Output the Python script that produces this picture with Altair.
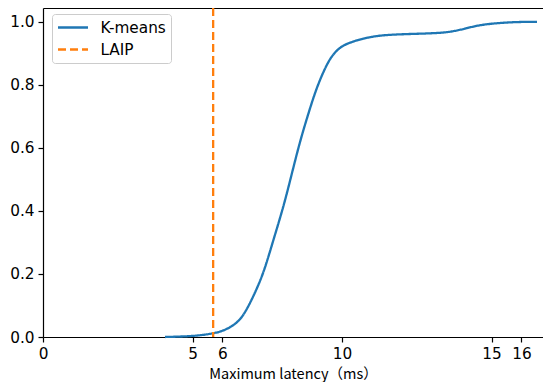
import altair as alt
import pandas as pd

# K-means CDF curve
kmeans_x = [4.08, 4.5, 5.0, 5.4, 5.7, 5.95, 6.3, 6.59, 6.8, 7.03, 7.37, 7.70, 8.04, 8.32, 8.6,
            8.87, 9.15, 9.49, 9.7, 9.93, 10.15, 10.5, 10.9, 11.27, 11.8, 12.4, 13.17, 13.7,
            14.17, 14.6, 15.17, 15.7, 16.1, 16.52]
kmeans_y = [0.0, 0.001, 0.003, 0.007, 0.012, 0.017, 0.032, 0.054, 0.085, 0.128, 0.20, 0.307,
            0.412, 0.518, 0.623, 0.708, 0.792, 0.866, 0.897, 0.919, 0.93, 0.942, 0.951, 0.957,
            0.96, 0.962, 0.964, 0.969, 0.98, 0.99, 0.996, 0.999, 1.0, 1.0]

laip_x = [5.69]

series_names = ["K-means", "LAIP"]
series_colors = ["#1f77b4", "#ff7f0e"]
x_ticks = [0, 5, 6, 10, 15, 16]
y_ticks = [0.0, 0.2, 0.4, 0.6, 0.8, 1.0]

curve = pd.DataFrame({"x": kmeans_x, "y": kmeans_y, "series": "K-means"})
laip = pd.DataFrame({"x": laip_x, "series": "LAIP"})

FS = 15.3
X_MAX = 16.72

legend_opts = dict(
    title=None,
    orient="none",
    legendX=9,
    legendY=6,
    symbolType="M-1,0H3",
    symbolSize=225,
    symbolStrokeWidth=2.3,
    labelFont="DejaVu Sans",
    labelFontSize=FS,
    labelColor="#000000",
    labelOffset=26,
    rowPadding=4,
    padding=4.5,
    fillColor="white",
    strokeColor="#cccccc",
    cornerRadius=3,
)

color = alt.Color(
    "series:N",
    scale=alt.Scale(domain=series_names, range=series_colors),
    legend=alt.Legend(**legend_opts),
)
dash = alt.StrokeDash(
    "series:N",
    scale=alt.Scale(domain=series_names, range=[[1, 0], [8, 4]]),
    legend=alt.Legend(**legend_opts),
)

line = alt.Chart(curve).mark_line(strokeWidth=2.3, interpolate="basis").encode(
    x=alt.X(
        "x:Q",
        scale=alt.Scale(domain=[0, X_MAX], nice=False, zero=False),
        axis=alt.Axis(
            values=x_ticks,
            title="Maximum latency（ms）",
            titleFont="Noto Sans CJK SC",
            titleFontSize=14.5,
            titleFontWeight="normal",
            titleColor="#000000",
            titleBaseline="alphabetic",
            titleY=41,
            labelFont="DejaVu Sans",
            labelFontSize=FS,
            labelColor="#000000",
            labelPadding=4,
            tickSize=5,
            tickWidth=1.2,
            tickColor="#000000",
            domainColor="#000000",
            domainWidth=1.2,
            grid=False,
            labelFlush=False,
        ),
    ),
    y=alt.Y(
        "y:Q",
        scale=alt.Scale(domain=[0, 1.044], nice=False),
        axis=alt.Axis(
            values=y_ticks,
            format=".1f",
            title=None,
            labelFont="DejaVu Sans",
            labelFontSize=FS,
            labelColor="#000000",
            labelPadding=4,
            tickSize=5,
            tickWidth=1.2,
            tickColor="#000000",
            domainColor="#000000",
            domainWidth=1.2,
            grid=False,
        ),
    ),
    color=color,
    strokeDash=dash,
)

rule = alt.Chart(laip).mark_rule(strokeWidth=2.3).encode(
    x=alt.X(
        "x:Q",
        scale=alt.Scale(domain=[0, X_MAX], nice=False, zero=False),
        axis=alt.Axis(
            orient="top",
            labels=False,
            ticks=False,
            title=None,
            grid=False,
            domainColor="#000000",
            domainWidth=1.2,
        ),
    ),
    color=color,
    strokeDash=dash,
)

chart = (
    alt.layer(line, rule)
    .resolve_axis(x="independent")
    .properties(
        width=500,
        height=329,
        autosize=alt.AutoSizeParams(type="none"),
        padding={"left": 35, "top": 0, "right": 0, "bottom": 45},
    )
    .configure_view(stroke=None)
)

chart.save("out.html", embed_options={"renderer": "svg", "actions": False})
